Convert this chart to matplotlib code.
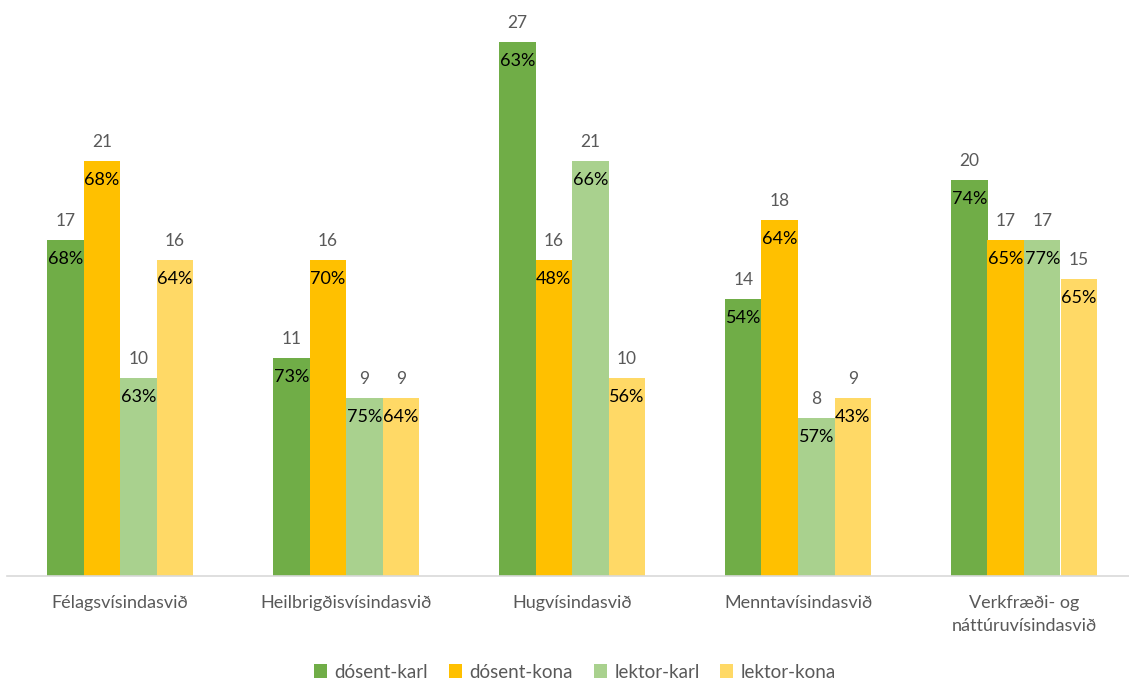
import matplotlib
matplotlib.use("Agg")
import matplotlib.pyplot as plt
import numpy as np

categories = ["Félagsvísindasvið", "Heilbrigðisvísindasvið", "Hugvísindasvið",
              "Menntavísindasvið", "Verkfræði- og\nnáttúruvísindasvið"]
series_names = ["dósent-karl", "dósent-kona", "lektor-karl", "lektor-kona"]
counts = {
    "dósent-karl": [17, 11, 27, 14, 20],
    "dósent-kona": [21, 16, 16, 18, 17],
    "lektor-karl": [10, 9, 21, 8, 17],
    "lektor-kona": [16, 9, 10, 9, 15],
}
percents = {
    "dósent-karl": [68, 73, 63, 54, 74],
    "dósent-kona": [68, 70, 48, 64, 65],
    "lektor-karl": [63, 75, 66, 57, 77],
    "lektor-kona": [64, 64, 56, 43, 65],
}
colors = ["#70AD47", "#FFC000", "#A9D18E", "#FFD966"]

plt.rcParams['font.family'] = ['Lato', 'DejaVu Sans']

W, H = 1129, 684
fig = plt.figure(figsize=(W / 100, H / 100), dpi=100)
left_px, right_px, bottom_px, top_px = 7, 1129, 576, 0
ax = fig.add_axes([left_px / W, 1 - bottom_px / H, (right_px - left_px) / W, (bottom_px - top_px) / H])

px_per_group = 226.0
x0 = -113.0 / px_per_group
x1 = x0 + (right_px - left_px) / px_per_group
ax.set_xlim(x0, x1)
unit_px = 19.78
ax.set_ylim(0, 576 / unit_px)

bw = 36.5 / px_per_group
offsets = [-1.5, -0.5, 0.5, 1.5]
x = np.arange(len(categories))
for i, name in enumerate(series_names):
    xs = x + offsets[i] * bw
    ax.bar(xs, counts[name], width=bw, color=colors[i], label=name, zorder=2)
    for xi, c, p in zip(xs, counts[name], percents[name]):
        ax.text(xi, c + 19 / unit_px, str(c), ha="center", va="center",
                fontsize=12.5, color="#595959")
        ax.text(xi, c - 19 / unit_px, f"{p}%", ha="center", va="center",
                fontsize=13, color="#000000")

for s in ["top", "right", "left"]:
    ax.spines[s].set_visible(False)
ax.spines["bottom"].set_color("#D9D9D9")
ax.spines["bottom"].set_linewidth(1.2)
ax.set_yticks([])
ax.set_xticks(x)
ax.set_xticklabels(categories, fontsize=13, color="#595959", linespacing=1.5)
ax.tick_params(axis="x", length=0, pad=14)

leg = fig.legend(loc="center", bbox_to_anchor=(575 / W, 1 - 672 / H), ncol=4,
                 frameon=False, fontsize=13.5, handlelength=0.7, handleheight=0.7,
                 handletextpad=0.4, columnspacing=1.1, labelcolor="#595959")

fig.savefig("out.png", dpi=100)
